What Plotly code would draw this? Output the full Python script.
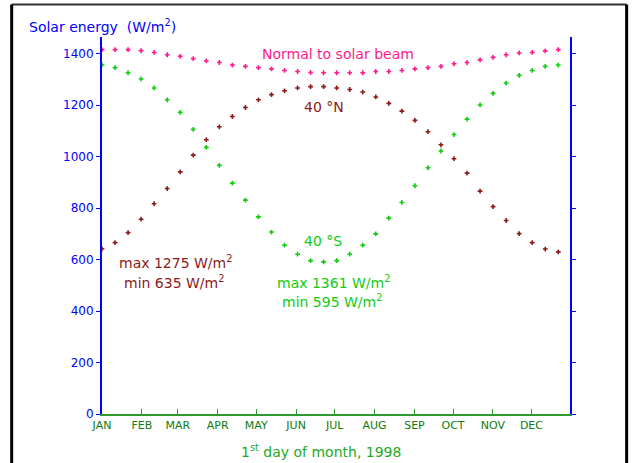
import plotly.graph_objects as go

# Day of year (offset from Jan 1, 1998), roughly every 10 days
days = [i * 10.14 for i in range(36)]

normal_beam = [1416, 1416, 1416, 1412, 1405, 1396, 1390, 1381, 1372, 1366, 1356, 1351,
               1346, 1341, 1335, 1331, 1327, 1326, 1326, 1326, 1326, 1331, 1331, 1335,
               1341, 1346, 1351, 1361, 1366, 1376, 1386, 1396, 1403, 1405, 1411, 1416]

lat_40n = [642, 666, 705, 757, 817, 876, 941, 1006, 1066, 1116, 1156, 1191,
           1221, 1241, 1256, 1267, 1272, 1272, 1267, 1261, 1251, 1232, 1207, 1177,
           1141, 1097, 1046, 992, 936, 866, 806, 752, 701, 666, 641, 630]

lat_40s = [1357, 1346, 1326, 1302, 1267, 1221, 1172, 1106, 1036, 966, 897, 831,
           766, 707, 656, 621, 596, 591, 596, 621, 656, 700, 761, 822,
           887, 957, 1022, 1086, 1146, 1201, 1246, 1286, 1316, 1335, 1351, 1356]

month_days = [0, 31, 59, 90, 120, 151, 181, 212, 243, 273, 304, 334]
month_labels = ["JAN", "FEB", "MAR", "APR", "MAY", "JUN", "JUL", "AUG", "SEP", "OCT", "NOV", "DEC"]
y_ticks = [0, 200, 400, 600, 800, 1000, 1200, 1400]

PINK = "#ff1a8c"
DRED = "#8b1a1a"
GREEN = "#11cc11"
BLUE = "#0000ff"
AXGREEN = "#2e9a2e"
FONT = "DejaVu Sans"

fig = go.Figure()
for vals, col in [(normal_beam, PINK), (lat_40n, DRED), (lat_40s, GREEN)]:
    fig.add_trace(go.Scatter(x=days, y=vals, mode="markers",
                             marker=dict(symbol="cross", size=4, color=col, line=dict(width=0)),
                             showlegend=False, hoverinfo="skip"))

fig.update_layout(
    width=632, height=463,
    margin=dict(l=102, r=62, t=37, b=49),
    paper_bgcolor="white", plot_bgcolor="white",
    font=dict(family=FONT, size=12),
    xaxis=dict(range=[0, 364], tickvals=month_days, ticktext=month_labels,
               showgrid=False, zeroline=False, showline=True, linecolor=AXGREEN, linewidth=2,
               ticks="inside", ticklen=5, tickcolor=AXGREEN, tickwidth=1,
               tickfont=dict(size=11, color="#117a11", family=FONT)),
    yaxis=dict(range=[0, 1465], tickvals=y_ticks,
               showgrid=False, zeroline=False, showline=True, linecolor=BLUE, linewidth=2,
               mirror="ticks", ticks="outside", ticklen=4, tickcolor=BLUE, tickwidth=1,
               tickfont=dict(size=12, color=BLUE, family=FONT)),
)

ann = [
    ("Solar energy  (W/m<sup>2</sup>)", -0.16, 1.029, BLUE, "left", 14),
    ("1<sup>st</sup> day of month, 1998", 0.468, -0.097, "#22aa22", "center", 14),
    ("Normal to solar beam", 0.504, 0.956, PINK, "center", 14),
    ("40 °N", 0.474, 0.814, DRED, "center", 14),
    ("40 °S", 0.472, 0.459, GREEN, "center", 14),
    ("max 1275 W/m<sup>2</sup>", 0.156, 0.403, DRED, "center", 14),
    ("min 635 W/m<sup>2</sup>", 0.154, 0.350, DRED, "center", 14),
    ("max 1361 W/m<sup>2</sup>", 0.494, 0.350, GREEN, "center", 14),
    ("min 595 W/m<sup>2</sup>", 0.492, 0.300, GREEN, "center", 14),
]
for text, x, y, col, xa, fs in ann:
    fig.add_annotation(text=text, x=x, y=y, xref="paper", yref="paper",
                       xanchor=xa, yanchor="middle", showarrow=False,
                       font=dict(size=fs, color=col, family=FONT))

# outer frame
fig.add_shape(type="line", xref="paper", yref="paper", x0=-0.193, x1=1.121, y0=1.086, y1=1.086,
              line=dict(color="#333333", width=2))
fig.add_shape(type="line", xref="paper", yref="paper", x0=-0.193, x1=-0.193, y0=1.086, y1=-0.2,
              line=dict(color="black", width=3))
fig.add_shape(type="line", xref="paper", yref="paper", x0=1.121, x1=1.121, y0=1.086, y1=-0.2,
              line=dict(color="black", width=3))

fig.write_html("out.html", config={"displayModeBar": False},
               post_script="document.body.style.margin='0px';")
